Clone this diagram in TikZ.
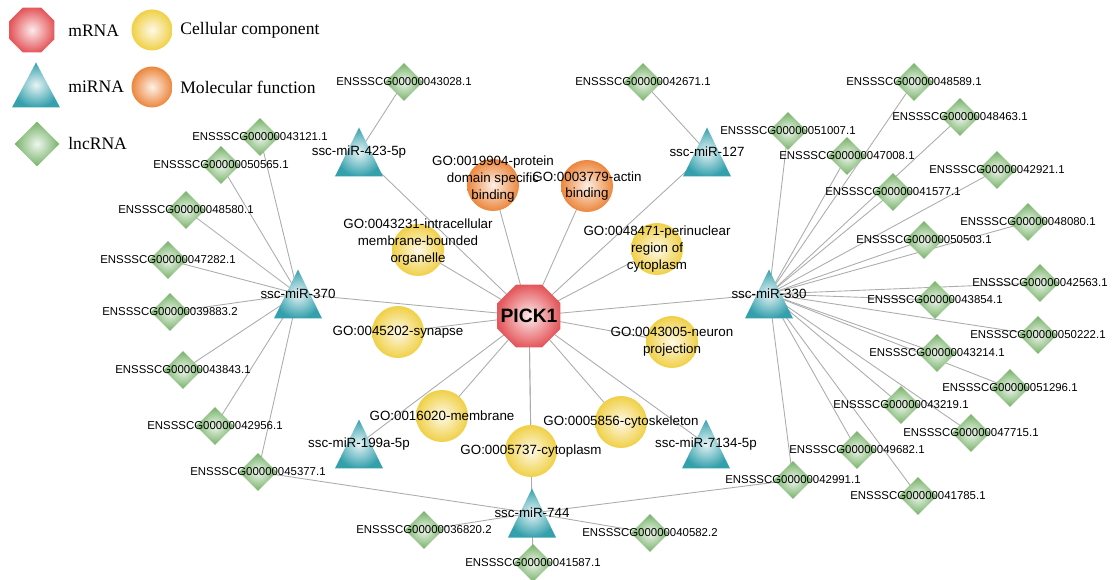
\documentclass[tikz,border=0pt]{standalone}
\usepackage{fontspec}
\setmainfont{Liberation Serif}
\setsansfont{Liberation Sans}
\usetikzlibrary{shapes.geometric}
\definecolor{mrnared}{RGB}{228,88,92}
\definecolor{ccyellow}{RGB}{240,208,70}
\definecolor{mforange}{RGB}{236,134,60}
\definecolor{mirteal}{RGB}{52,160,172}
\definecolor{lncgreen}{RGB}{118,178,104}
\definecolor{linkgray}{RGB}{172,172,172}
\pgfdeclarelayer{back}
\pgfsetlayers{back,main}

\begin{document}
\begin{tikzpicture}[x=0.2mm,y=-0.2mm]
\tikzstyle{lab}=[font=\sffamily\fontsize{7.6}{9.5}\selectfont, align=center, inner sep=0pt]
\tikzstyle{lnclab}=[font=\sffamily\fontsize{6.5}{8}\selectfont, inner sep=0pt]
\tikzstyle{legtext}=[font=\fontsize{10}{12}\selectfont, anchor=west, inner sep=0pt]
\tikzstyle{mrna}=[regular polygon, regular polygon sides=8, minimum size=13.6mm,
inner sep=0pt, inner color=mrnared!12, outer color=mrnared]
\tikzstyle{cc}=[circle, minimum size=10.4mm, inner sep=0pt,
inner color=ccyellow!12, outer color=ccyellow]
\tikzstyle{mf}=[cc, inner color=mforange!12, outer color=mforange]
\tikzstyle{mir}=[minimum width=9.6mm, minimum height=9.8mm, inner sep=0pt,
path picture={\shade[inner color=mirteal!12, outer color=mirteal]
(path picture bounding box.south west) -- (path picture bounding box.south east)
-- (path picture bounding box.north) -- cycle;}]
\tikzstyle{lnc}=[diamond, minimum width=7.6mm, minimum height=7.6mm, inner sep=0pt,
inner color=lncgreen!12, outer color=lncgreen]
\tikzstyle{link}=[draw=linkgray, line width=0.5pt]
\useasboundingbox (0,0) rectangle (1117,580);

% legend
\node[mrna, minimum size=9.7mm] at (32,30) (kmrna) {};
\node[mir, minimum width=9.6mm, minimum height=9mm] at (36,85) (kmir) {};
\node[lnc, minimum width=9mm, minimum height=9mm] at (37,144) (klnc) {};
\node[cc, minimum size=8.2mm] at (152,30) (kcc) {};
\node[mf, minimum size=8.2mm] at (152,87) (kmf) {};
\node[legtext] at (68,31) (tmrna) {mRNA};
\node[legtext] at (68,87) (tmir) {miRNA};
\node[legtext] at (68,143) (tlnc) {lncRNA};
\node[legtext] at (180,30) (tcc) {Cellular component};
\node[legtext] at (180,87) (tmf) {Molecular function};

% mRNA
\node[mrna, label={[inner sep=0pt, font=\sffamily\bfseries\fontsize{11}{13}\selectfont]center:PICK1}] at (529,316) (p) {};

% GO terms
\node[mf, label={[lab, yshift=1.2mm]center:GO:0019904-protein\\domain specific\\binding}] at (493,185) (gProt) {};
\node[mf, label={[lab]center:GO:0003779-actin\\binding}] at (587,186) (gActin) {};
\node[cc, label={[lab, yshift=1.6mm]center:GO:0043231-intracellular\\membrane-bounded\\organelle}] at (418,250) (gOrg) {};
\node[cc, label={[lab]center:GO:0048471-perinuclear\\region of\\cytoplasm}] at (657,249) (gPeri) {};
\node[cc, label={[lab]center:GO:0045202-synapse}] at (398,332) (gSyn) {};
\node[cc, label={[lab]center:GO:0043005-neuron\\projection}] at (672,342) (gNeur) {};
\node[cc, label={[lab]center:GO:0016020-membrane}] at (442,416) (gMem) {};
\node[cc, label={[lab]center:GO:0005856-cytoskeleton}] at (621,422) (gSkel) {};
\node[cc, label={[lab]center:GO:0005737-cytoplasm}] at (531,451) (gCyto) {};

% miRNA
\node[mir, label={[lab]center:ssc-miR-423-5p}] at (359,152) (m423) {};
\node[mir, label={[lab]center:ssc-miR-127}] at (707,152) (m127) {};
\node[mir, label={[lab]center:ssc-miR-370}] at (298,294) (m370) {};
\node[mir, label={[lab]center:ssc-miR-330}] at (769,294) (m330) {};
\node[mir, label={[lab]center:ssc-miR-199a-5p}] at (359,444) (m199) {};
\node[mir, label={[lab]center:ssc-miR-7134-5p}] at (706,444) (m7134) {};
\node[mir, label={[lab]center:ssc-miR-744}] at (532,513) (m744) {};

% lncRNA
\node[lnc, label={[lnclab]center:ENSSSCG00000043028.1}] at (404,82) (e43028) {};
\node[lnc, label={[lnclab]center:ENSSSCG00000042671.1}] at (643,82) (e42671) {};
\node[lnc, label={[lnclab]center:ENSSSCG00000043121.1}] at (260,137) (e43121) {};
\node[lnc, label={[lnclab]center:ENSSSCG00000050565.1}] at (221,165) (e50565) {};
\node[lnc, label={[lnclab]center:ENSSSCG00000048580.1}] at (186,210) (e48580) {};
\node[lnc, label={[lnclab]center:ENSSSCG00000047282.1}] at (168,260) (e47282) {};
\node[lnc, label={[lnclab]center:ENSSSCG00000039883.2}] at (170,312) (e39883) {};
\node[lnc, label={[lnclab]center:ENSSSCG00000043843.1}] at (183,370) (e43843) {};
\node[lnc, label={[lnclab]center:ENSSSCG00000042956.1}] at (215,426) (e42956) {};
\node[lnc, label={[lnclab]center:ENSSSCG00000045377.1}] at (258,472) (e45377) {};
\node[lnc, label={[lnclab]center:ENSSSCG00000036820.2}] at (424,530) (e36820) {};
\node[lnc, label={[lnclab]center:ENSSSCG00000041587.1}] at (533,563) (e41587) {};
\node[lnc, label={[lnclab]center:ENSSSCG00000040582.2}] at (650,533) (e40582) {};
\node[lnc, label={[lnclab]center:ENSSSCG00000042991.1}] at (793,480) (e42991) {};
\node[lnc, label={[lnclab]center:ENSSSCG00000049682.1}] at (857,450) (e49682) {};
\node[lnc, label={[lnclab]center:ENSSSCG00000041785.1}] at (918,496) (e41785) {};
\node[lnc, label={[lnclab]center:ENSSSCG00000047715.1}] at (971,433) (e47715) {};
\node[lnc, label={[lnclab]center:ENSSSCG00000043219.1}] at (901,405) (e43219) {};
\node[lnc, label={[lnclab]center:ENSSSCG00000051296.1}] at (1010,388) (e51296) {};
\node[lnc, label={[lnclab]center:ENSSSCG00000043214.1}] at (937,353) (e43214) {};
\node[lnc, label={[lnclab]center:ENSSSCG00000050222.1}] at (1038,335) (e50222) {};
\node[lnc, label={[lnclab]center:ENSSSCG00000043854.1}] at (935,300) (e43854) {};
\node[lnc, label={[lnclab]center:ENSSSCG00000042563.1}] at (1040,283) (e42563) {};
\node[lnc, label={[lnclab]center:ENSSSCG00000050503.1}] at (924,240) (e50503) {};
\node[lnc, label={[lnclab]center:ENSSSCG00000048080.1}] at (1028,222) (e48080) {};
\node[lnc, label={[lnclab]center:ENSSSCG00000041577.1}] at (893,192) (e41577) {};
\node[lnc, label={[lnclab]center:ENSSSCG00000042921.1}] at (997,170) (e42921) {};
\node[lnc, label={[lnclab]center:ENSSSCG00000047008.1}] at (847,156) (e47008) {};
\node[lnc, label={[lnclab]center:ENSSSCG00000051007.1}] at (788,131) (e51007) {};
\node[lnc, label={[lnclab]center:ENSSSCG00000048463.1}] at (960,117) (e48463) {};
\node[lnc, label={[lnclab]center:ENSSSCG00000048589.1}] at (914,82) (e48589) {};

\begin{pgfonlayer}{back}
% PICK1 links
\path[link] (p.center) edge (gProt.center) ;
\path[link] (p.center) edge (gActin.center) ;
\path[link] (p.center) edge (gOrg.center) ;
\path[link] (p.center) edge (gPeri.center) ;
\path[link] (p.center) edge (gSyn.center) ;
\path[link] (p.center) edge (gNeur.center) ;
\path[link] (p.center) edge (gMem.center) ;
\path[link] (p.center) edge (gSkel.center) ;
\path[link] (p.center) edge (gCyto.center) ;
\path[link] (p.center) edge (m423.center) ;
\path[link] (p.center) edge (m127.center) ;
\path[link] (p.center) edge (m370.center) ;
\path[link] (p.center) edge (m330.center) ;
\path[link] (p.center) edge (m199.center) ;
\path[link] (p.center) edge (m7134.center) ;
\path[link] (p.center) edge (m744.center) ;
% miRNA - lncRNA
\path[link] (m423.center) edge (e43028.center) ;
\path[link] (m127.center) edge (e42671.center) ;
\path[link] (m370.center) edge (e43121.center) ;
\path[link] (m370.center) edge (e50565.center) ;
\path[link] (m370.center) edge (e48580.center) ;
\path[link] (m370.center) edge (e47282.center) ;
\path[link] (m370.center) edge (e39883.center) ;
\path[link] (m370.center) edge (e43843.center) ;
\path[link] (m370.center) edge (e42956.center) ;
\path[link] (m370.center) edge (e45377.center) ;
\path[link] (m744.center) edge (e45377.center) ;
\path[link] (m744.center) edge (e36820.center) ;
\path[link] (m744.center) edge (e41587.center) ;
\path[link] (m744.center) edge (e40582.center) ;
\path[link] (m744.center) edge (e42991.center) ;
\path[link] (m330.center) edge (e51007.center) ;
\path[link] (m330.center) edge (e47008.center) ;
\path[link] (m330.center) edge (e48589.center) ;
\path[link] (m330.center) edge (e48463.center) ;
\path[link] (m330.center) edge (e41577.center) ;
\path[link] (m330.center) edge (e42921.center) ;
\path[link] (m330.center) edge (e50503.center) ;
\path[link] (m330.center) edge (e48080.center) ;
\path[link] (m330.center) edge (e42563.center) ;
\path[link] (m330.center) edge (e43854.center) ;
\path[link] (m330.center) edge (e50222.center) ;
\path[link] (m330.center) edge (e43214.center) ;
\path[link] (m330.center) edge (e51296.center) ;
\path[link] (m330.center) edge (e43219.center) ;
\path[link] (m330.center) edge (e47715.center) ;
\path[link] (m330.center) edge (e49682.center) ;
\path[link] (m330.center) edge (e41785.center) ;
\path[link] (m330.center) edge (e42991.center) ;
\end{pgfonlayer}

\end{tikzpicture}
\end{document}
